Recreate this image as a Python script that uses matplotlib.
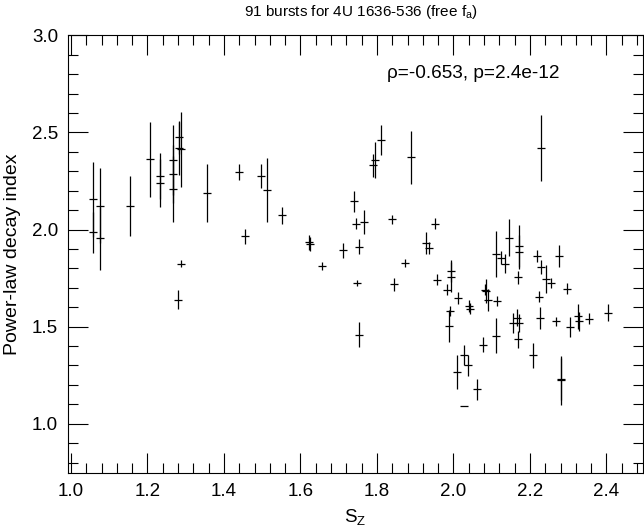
import matplotlib
matplotlib.use("Agg")
import matplotlib.pyplot as plt
from matplotlib.ticker import MultipleLocator, FormatStrFormatter

plt.rcParams['font.family'] = ['Liberation Sans', 'DejaVu Sans']
plt.rcParams['mathtext.default'] = 'regular'

# S_Z values
sz = [1.058, 1.058, 1.076, 1.076, 1.154, 1.207, 1.234, 1.234, 1.268, 1.268,
      1.268, 1.283, 1.283, 1.288, 1.288, 1.281, 1.355, 1.438, 1.456, 1.498,
      1.513, 1.552, 1.622, 1.624, 1.656, 1.712, 1.740, 1.745, 1.752, 1.767,
      1.749, 1.754, 1.790, 1.796, 1.810, 1.839, 1.845, 1.874, 1.888, 1.928,
      1.936, 1.951, 1.958, 1.982, 1.994, 1.993, 1.991, 1.989, 2.008, 2.011,
      2.027, 2.027, 2.039, 2.041, 2.043, 2.061, 2.078, 2.082, 2.085, 2.089,
      2.111, 2.111, 2.115, 2.124, 2.135, 2.146, 2.155, 2.167, 2.172, 2.168,
      2.172, 2.172, 2.170, 2.209, 2.218, 2.223, 2.226, 2.228, 2.229, 2.242,
      2.254, 2.268, 2.277, 2.280, 2.280, 2.296, 2.305, 2.325, 2.329, 2.354,
      2.403]

# power-law decay index
decay = [2.155, 1.985, 2.122, 1.954, 2.120, 2.362, 2.276, 2.239, 2.356, 2.285,
         2.208, 2.474, 2.418, 2.413, 1.825, 1.639, 2.189, 2.297, 1.965, 2.275,
         2.203, 2.074, 1.935, 1.925, 1.814, 1.893, 2.146, 2.031, 1.912, 2.039,
         1.725, 1.459, 2.330, 2.357, 2.460, 2.053, 1.718, 1.829, 2.371, 1.932,
         1.906, 2.029, 1.742, 1.691, 1.785, 1.756, 1.580, 1.503, 1.266, 1.647,
         1.352, 1.091, 1.300, 1.605, 1.593, 1.177, 1.407, 1.691, 1.684, 1.636,
         1.874, 1.453, 1.630, 1.854, 1.825, 1.957, 1.519, 1.546, 1.519, 1.435,
         1.914, 1.885, 1.755, 1.352, 1.864, 1.653, 1.546, 2.419, 1.807, 1.744,
         1.725, 1.527, 1.864, 1.232, 1.223, 1.696, 1.498, 1.553, 1.527, 1.541,
         1.572]

# uncertainty on the decay index
decay_err = [0.194, 0.106, 0.193, 0.163, 0.155, 0.193, 0.120, 0.125, 0.180, 0.150,
             0.170, 0.086, 0.137, 0.193, 0.017, 0.050, 0.150, 0.040, 0.040, 0.060,
             0.163, 0.043, 0.038, 0.038, 0.020, 0.038, 0.054, 0.026, 0.038, 0.064,
             0.017, 0.064, 0.060, 0.092, 0.077, 0.023, 0.033, 0.020, 0.138, 0.056,
             0.030, 0.028, 0.030, 0.030, 0.057, 0.077, 0.024, 0.084, 0.086, 0.030,
             0.052, 0.000, 0.056, 0.030, 0.030, 0.054, 0.040, 0.030, 0.060, 0.056,
             0.116, 0.090, 0.026, 0.034, 0.047, 0.095, 0.050, 0.045, 0.045, 0.045,
             0.108, 0.086, 0.034, 0.064, 0.030, 0.028, 0.056, 0.170, 0.036, 0.072,
             0.026, 0.024, 0.055, 0.108, 0.124, 0.028, 0.053, 0.063, 0.047, 0.028,
             0.045]

title = "91 bursts for 4U 1636-536 (free f$_a$)"
annot = "\u03c1=-0.653, p=2.4e-12"

fig = plt.figure(figsize=(6.44, 5.28), dpi=100)
ax = fig.add_axes([67.7 / 644, 1 - 473.3 / 528, (642.8 - 67.7) / 644, (473.3 - 35.3) / 528])

ax.errorbar(sz, decay, yerr=decay_err, fmt='none', ecolor='black', elinewidth=0.9, capsize=0)
ax.plot(sz, decay, ls='none', marker='_', ms=6, mew=0.9, color='black')

ax.set_xlim(0.9914, 2.495)
ax.set_ylim(0.745, 3.0)

ax.xaxis.set_major_locator(MultipleLocator(0.2))
ax.xaxis.set_minor_locator(MultipleLocator(0.04))
ax.yaxis.set_major_locator(MultipleLocator(0.5))
ax.yaxis.set_minor_locator(MultipleLocator(0.1))
ax.xaxis.set_major_formatter(FormatStrFormatter('%.1f'))
ax.yaxis.set_major_formatter(FormatStrFormatter('%.1f'))

ax.tick_params(which='both', direction='in', top=True, right=True, width=0.8, colors='black')
ax.tick_params(which='major', length=14.4, labelsize=13.5, pad=7)
ax.tick_params(which='minor', length=7.2)
for s in ax.spines.values():
    s.set_linewidth(0.8)

ax.set_title(title, fontsize=11, pad=14, x=0.51)
ax.set_xlabel("$S_Z$", fontsize=13.5, labelpad=5)
ax.set_ylabel("Power-law decay index", fontsize=14, labelpad=8)
ax.text(0.7045, 0.913, annot, transform=ax.transAxes, ha='center', va='center', fontsize=13.7)

fig.savefig("out.png", dpi=100)
